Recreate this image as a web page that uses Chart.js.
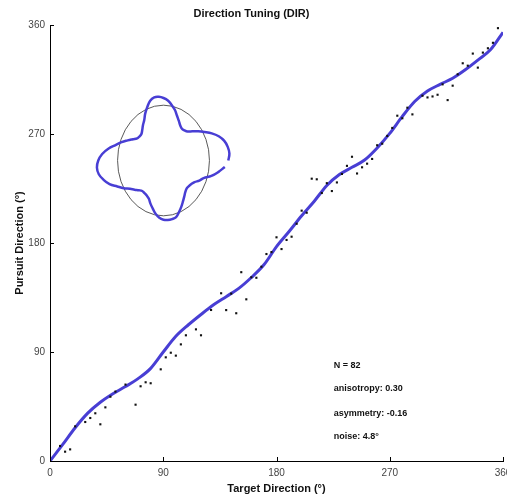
<!DOCTYPE html>
<html><head><meta charset="utf-8">
<script src="https://cdn.jsdelivr.net/npm/chart.js@4.4.1/dist/chart.umd.min.js"></script>
<style>
html,body{margin:0;padding:0;background:#fff;}
#wrap{position:relative;width:507px;height:499px;overflow:hidden;}
#main{position:absolute;left:0;top:0;width:507px;height:499px;}
#inset{position:absolute;left:90px;top:72px;width:147px;height:177px;}
</style></head><body>
<div id="wrap">
<canvas id="main" width="507" height="499"></canvas>
<canvas id="inset" width="147" height="177"></canvas>
</div>
<script>
// ---- data ----
const targetDir = [8,12,16,20,28,32,36,40,44,48,52,60,68,72,76,80,88,92,96,100,104,108,116,120,128,136,140,144,148,152,156,160,164,168,172,176,180,184,188,192,196,200,204,208,212,216,220,224,228,232,236,240,244,248,252,256,260,264,268,272,276,280,284,288,296,300,304,308,312,316,320,324,328,332,336,340,344,348,352,356];
const pursuitDir = [12.4,7.7,9.6,28.6,32.2,35.5,39.4,30.3,44.3,53.1,57.3,63.1,46.5,61.7,65,64.2,75.7,85.6,89.4,87,96.3,103.8,108.7,103.8,124.7,138.5,124.6,138.2,122,155.9,133.5,151.7,151.3,160.4,170.9,172.5,184.7,175,182.5,185.2,195.9,206.7,205,233.1,232.6,221.3,229.4,222.9,230,237,243.7,251.2,237.4,242.5,245.5,249.4,260.7,262,268.4,275,285.1,283,291.7,286.2,301.6,300.2,301,302.4,311,298,309.9,319.3,328.4,326.4,336.4,324.8,337.2,340.8,345.3,357.4];
const fitTarget = [0,10,20,30,40,50,60,70,80,90,100,110,120,130,140,150,160,170,180,190,200,210,220,230,240,250,260,270,280,290,300,310,320,330,340,350,360];
const fitPursuit = [0,13.5,27.5,39.5,48.5,55.5,61.5,68,76.5,90,103,112.5,121,129,135.7,142.5,151.5,162,177,189.5,202.5,214.5,227.5,236.5,242.5,248.5,258.5,270.5,284.5,297,305.5,311,316,323,331,339.5,354];
const tickValues = [0,90,180,270,360];
const insetAngle = [0,5,10,15,20,25,30,35,40,45,50,55,60,65,70,75,80,85,90,95,100,105,110,115,120,125,130,135,140,145,150,155,160,165,170,175,180,185,190,195,200,205,210,215,220,225,230,235,240,245,250,255,260,265,270,275,280,285,290,295,300,305,310,315,320,325,330,335,340,345,350,355];
const insetRadius = [1.41,1.44,1.42,1.37,1.28,1.16,1.03,0.92,0.82,0.74,0.71,0.70,0.73,0.79,0.86,0.95,1.02,1.09,1.13,1.155,1.16,1.12,1.03,0.94,0.84,0.78,0.72,0.68,0.68,0.70,0.77,0.86,0.97,1.08,1.22,1.34,1.42,1.455,1.43,1.35,1.25,1.11,1.00,0.89,0.82,0.76,0.72,0.72,0.73,0.76,0.83,0.90,0.98,1.04,1.07,1.08,1.075,1.06,0.99,0.92,0.85,0.79,0.74,0.715,0.72,0.74,0.78,0.86,0.93,1.08,1.21,1.34];
const statsLines = ['N = 82','anisotropy: 0.30','asymmetry: -0.16','noise: 4.8°'];

const BLUE = 'rgb(72,62,212)';
const FONT = '"Liberation Sans", Arial, Helvetica, sans-serif';

const extras = {
  id: 'extras',
  afterDraw(chart) {
    const {ctx, chartArea: a, scales: {x, y}} = chart;
    ctx.save();
    ctx.strokeStyle = '#000';
    ctx.lineWidth = 1;
    ctx.beginPath();
    tickValues.forEach(v => {
      const px = Math.round(x.getPixelForValue(v)) + 0.5;
      ctx.moveTo(px, a.bottom); ctx.lineTo(px, a.bottom - 4);
      const py = Math.round(y.getPixelForValue(v)) + 0.5;
      ctx.moveTo(a.left, py); ctx.lineTo(a.left + 4, py);
    });
    ctx.stroke();
    ctx.font = 'bold 9px ' + FONT;
    ctx.fillStyle = '#111';
    ctx.textBaseline = 'middle';
    ctx.textAlign = 'left';
    const sx = x.getPixelForValue(225.5);
    const anchors = [78.5, 59.5, 39, 20.5];
    statsLines.forEach((t, i) => ctx.fillText(t, sx, y.getPixelForValue(anchors[i])));
    ctx.restore();
  }
};

new Chart(document.getElementById('main'), {
  type: 'scatter',
  data: {
    datasets: [
      {
        data: targetDir.map((v, i) => ({x: v, y: pursuitDir[i]})),
        pointStyle: 'rect', pointRadius: 1.5, backgroundColor: '#111', borderWidth: 0, order: 0
      },
      {
        type: 'line',
        data: fitTarget.map((v, i) => ({x: v, y: fitPursuit[i]})),
        borderColor: BLUE, borderWidth: 3, pointRadius: 0, fill: false,
        cubicInterpolationMode: 'monotone', order: 1
      }
    ]
  },
  options: {
    responsive: false, animation: false, events: [],
    layout: {padding: {top: 0, left: 0, right: 4, bottom: 0}},
    plugins: {
      legend: {display: false}, tooltip: {enabled: false},
      title: {
        display: true, text: 'Direction Tuning (DIR)', color: '#111',
        font: {family: FONT, size: 11, weight: 'bold', lineHeight: 1.2},
        padding: {top: 7.4, bottom: 4.4}
      }
    },
    scales: {
      x: {
        type: 'linear', min: 0, max: 360,
        afterBuildTicks: s => { s.ticks = tickValues.map(v => ({value: v})); },
        afterFit: s => { s.height = 38; s.paddingLeft = 0; s.paddingRight = 0; },
        grid: {display: true, drawOnChartArea: false, drawTicks: false},
        border: {display: true, color: '#000', width: 1},
        ticks: {padding: 6, color: '#444', maxRotation: 0, autoSkip: false, font: {family: FONT, size: 10}},
        title: {display: true, text: 'Target Direction (°)', color: '#111',
          font: {family: FONT, size: 11, weight: 'bold', lineHeight: 1.2}, padding: {top: 0, bottom: 3.4}}
      },
      y: {
        type: 'linear', min: 0, max: 360,
        afterBuildTicks: s => { s.ticks = tickValues.map(v => ({value: v})); },
        afterFit: s => { s.width = 50; s.paddingTop = 0; s.paddingBottom = 0; },
        grid: {display: true, drawOnChartArea: false, drawTicks: false},
        border: {display: true, color: '#000', width: 1},
        ticks: {padding: 5, color: '#444', autoSkip: false, font: {family: FONT, size: 10}},
        title: {display: true, text: 'Pursuit Direction (°)', color: '#111',
          font: {family: FONT, size: 11, weight: 'bold', lineHeight: 1.2}, padding: {top: 13.4, bottom: 0}}
      }
    }
  },
  plugins: [extras]
});

const unitCircle = {
  id: 'unitCircle',
  beforeDatasetsDraw(chart) {
    const {ctx, scales: {x, y}} = chart;
    const cx = x.getPixelForValue(0), cy = y.getPixelForValue(0);
    ctx.save();
    ctx.strokeStyle = 'rgb(70,70,70)';
    ctx.lineWidth = 0.9;
    ctx.beginPath();
    ctx.ellipse(cx, cy, Math.abs(x.getPixelForValue(1) - cx), Math.abs(y.getPixelForValue(1) - cy), 0, 0, Math.PI * 2);
    ctx.stroke();
    ctx.restore();
  }
};

new Chart(document.getElementById('inset'), {
  type: 'scatter',
  data: {
    datasets: [{
      type: 'line',
      data: insetAngle.map((a, i) => ({
        x: insetRadius[i] * Math.cos(a * Math.PI / 180),
        y: insetRadius[i] * Math.sin(a * Math.PI / 180)
      })),
      borderColor: BLUE, borderWidth: 2.5, pointRadius: 0, fill: false, tension: 0.4, clip: false
    }]
  },
  options: {
    responsive: false, animation: false, events: [],
    layout: {padding: 0},
    plugins: {legend: {display: false}, tooltip: {enabled: false}, title: {display: false}},
    scales: {
      x: {type: 'linear', display: false, min: -1.6, max: 1.6},
      y: {type: 'linear', display: false, min: -1.6, max: 1.6}
    }
  },
  plugins: [unitCircle]
});
</script>
</body></html>
